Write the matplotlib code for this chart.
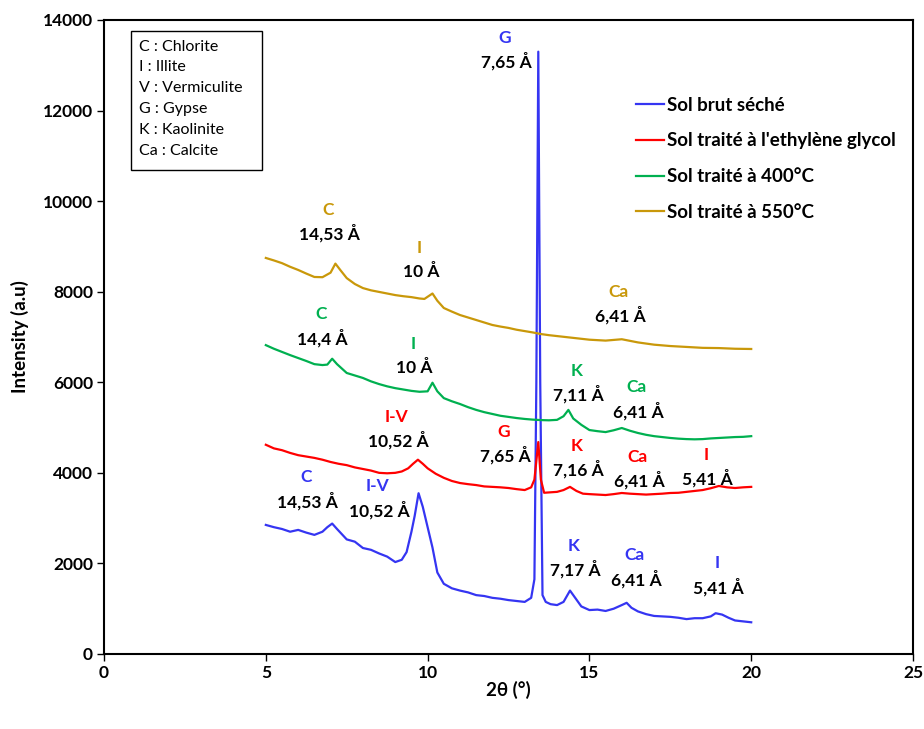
import matplotlib
matplotlib.use("Agg")
import matplotlib.pyplot as plt
from matplotlib.patches import Rectangle

plt.rcParams['font.family'] = ['Lato', 'DejaVu Sans']

# Sol brut séché
x_brut = [5.0, 5.25, 5.5, 5.75, 6.0, 6.25, 6.5, 6.75, 6.9, 7.05, 7.2, 7.5, 7.75, 8.0, 8.25, 8.5,
          8.75, 9.0, 9.2, 9.35, 9.5, 9.6, 9.72, 9.85, 10.0, 10.15, 10.3, 10.5, 10.75, 11.0, 11.25,
          11.5, 11.75, 12.0, 12.25, 12.5, 12.75, 13.0, 13.2, 13.3, 13.36, 13.42, 13.48, 13.55,
          13.65, 13.8, 14.0, 14.2, 14.4, 14.55, 14.75, 15.0, 15.25, 15.5, 15.75, 16.0, 16.15,
          16.3, 16.5, 16.75, 17.0, 17.25, 17.5, 17.75, 18.0, 18.25, 18.5, 18.75, 18.9, 19.1,
          19.3, 19.5, 19.75, 20.0]
y_brut = [2850, 2800, 2760, 2700, 2740, 2680, 2630, 2700, 2800, 2880, 2760, 2530, 2480, 2340, 2300,
          2220, 2150, 2030, 2080, 2250, 2700, 3050, 3550, 3250, 2800, 2350, 1800, 1550, 1450, 1400,
          1360, 1300, 1280, 1240, 1220, 1190, 1170, 1150, 1240, 1650, 6000, 13300, 6000, 1300,
          1150, 1100, 1080, 1150, 1400, 1250, 1050, 970, 980, 950, 1000, 1080, 1130, 1020, 940,
          880, 840, 830, 820, 800, 770, 790, 790, 830, 900, 870, 800, 740, 720, 700]

# Sol traité à l'ethylène glycol
x_eg = [5.0, 5.25, 5.5, 5.75, 6.0, 6.25, 6.5, 6.75, 7.0, 7.25, 7.5, 7.75, 8.0, 8.25, 8.5, 8.75,
        9.0, 9.2, 9.4, 9.55, 9.7, 9.85, 10.0, 10.25, 10.5, 10.75, 11.0, 11.25, 11.5, 11.75, 12.0,
        12.25, 12.5, 12.75, 13.0, 13.2, 13.3, 13.42, 13.5, 13.6, 13.8, 14.0, 14.2, 14.4, 14.6,
        14.8, 15.0, 15.25, 15.5, 15.75, 16.0, 16.25, 16.5, 16.75, 17.0, 17.25, 17.5, 17.75, 18.0,
        18.25, 18.5, 18.75, 19.0, 19.25, 19.5, 19.75, 20.0]
y_eg = [4620, 4540, 4500, 4440, 4390, 4360, 4330, 4290, 4240, 4200, 4170, 4120, 4085, 4050, 4000,
        3990, 4000, 4030, 4100, 4200, 4290, 4200, 4100, 3980, 3890, 3820, 3775, 3750, 3730, 3700,
        3690, 3680, 3665, 3640, 3620, 3680, 3850, 4680, 3850, 3560, 3570, 3580, 3620, 3690, 3600,
        3540, 3530, 3520, 3510, 3530, 3555, 3540, 3530, 3520, 3530, 3540, 3555, 3560, 3580, 3600,
        3620, 3660, 3710, 3680, 3665, 3680, 3690]

# Sol traité à 400°C
x_400 = [5.0, 5.25, 5.5, 5.75, 6.0, 6.25, 6.5, 6.75, 6.9, 7.05, 7.2, 7.5, 7.75, 8.0, 8.25, 8.5,
         8.75, 9.0, 9.25, 9.5, 9.75, 10.0, 10.15, 10.3, 10.5, 10.75, 11.0, 11.25, 11.5, 11.75,
         12.0, 12.25, 12.5, 12.75, 13.0, 13.25, 13.5, 13.75, 14.0, 14.2, 14.35, 14.5, 14.75, 15.0,
         15.25, 15.5, 15.75, 16.0, 16.25, 16.5, 16.75, 17.0, 17.25, 17.5, 17.75, 18.0, 18.25,
         18.5, 18.75, 19.0, 19.25, 19.5, 19.75, 20.0]
y_400 = [6820, 6740, 6670, 6600, 6535, 6470, 6400, 6380, 6390, 6520, 6400, 6205, 6150, 6095, 6020,
         5960, 5910, 5870, 5840, 5810, 5790, 5800, 5990, 5800, 5650, 5580, 5520, 5450, 5390, 5340,
         5300, 5260, 5235, 5210, 5190, 5175, 5165, 5160, 5170, 5250, 5390, 5200, 5060, 4945, 4920,
         4900, 4940, 4990, 4930, 4880, 4840, 4810, 4790, 4770, 4755, 4745, 4740, 4745, 4760, 4770,
         4780, 4790, 4795, 4810]

# Sol traité à 550°C
x_550 = [5.0, 5.25, 5.5, 5.75, 6.0, 6.25, 6.5, 6.75, 7.0, 7.15, 7.3, 7.5, 7.75, 8.0, 8.25, 8.5,
         8.75, 9.0, 9.25, 9.5, 9.75, 9.9, 10.15, 10.3, 10.5, 10.75, 11.0, 11.25, 11.5, 11.75, 12.0,
         12.25, 12.5, 12.75, 13.0, 13.25, 13.5, 13.75, 14.0, 14.5, 15.0, 15.5, 16.0, 16.5, 17.0,
         17.5, 18.0, 18.5, 19.0, 19.5, 20.0]
y_550 = [8745, 8690, 8630, 8550, 8480, 8400, 8325, 8320, 8420, 8620, 8480, 8300, 8170, 8080, 8030,
         7995, 7960, 7925, 7900, 7880, 7850, 7840, 7960, 7800, 7640, 7560, 7485, 7430, 7375, 7320,
         7265, 7230, 7200, 7160, 7130, 7100, 7065, 7040, 7020, 6980, 6940, 6920, 6950, 6880, 6830,
         6800, 6780, 6760, 6755, 6740, 6735]

labels = ["Sol brut séché", "Sol traité à l'ethylène glycol",
          "Sol traité à 400°C", "Sol traité à 550°C"]
colors = ["#3535f2", "#ff0000", "#00b050", "#c9980a"]

# peak annotations: (mineral, d-spacing, x, y of mineral letter, series index)
peaks = [
    ("C", "14,53 Å", 6.93, 9800, 3), ("I", "10 Å", 9.75, 8960, 3), ("Ca", "6,41 Å", 15.9, 7990, 3),
    ("C", "14,4 Å", 6.71, 7500, 2), ("I", "10 Å", 9.55, 6840, 2), ("K", "7,11 Å", 14.6, 6250, 2),
    ("Ca", "6,41 Å", 16.45, 5890, 2),
    ("I-V", "10,52 Å", 9.05, 5230, 1), ("G", "7,65 Å", 12.35, 4900, 1), ("K", "7,16 Å", 14.6, 4590, 1),
    ("Ca", "6,41 Å", 16.5, 4350, 1), ("I", "5,41 Å", 18.6, 4390, 1),
    ("C", "14,53 Å", 6.25, 3900, 0), ("I-V", "10,52 Å", 8.45, 3700, 0), ("G", "7,65 Å", 12.38, 13600, 0),
    ("K", "7,17 Å", 14.5, 2380, 0), ("Ca", "6,41 Å", 16.4, 2180, 0), ("I", "5,41 Å", 18.95, 2000, 0),
]
minerals = ["C : Chlorite", "I : Illite", "V : Vermiculite", "G : Gypse",
            "K : Kaolinite", "Ca : Calcite"]

fig = plt.figure(figsize=(9.24, 7.29), dpi=100)
ax = fig.add_axes([0.1126, 0.1029, 0.8755, 0.8697])

xs = [x_brut, x_eg, x_400, x_550]
ys = [y_brut, y_eg, y_400, y_550]
for xv, yv, c, lab in zip(xs, ys, colors, labels):
    ax.plot(xv, yv, color=c, lw=1.6, label=lab)

for mineral, d, x, y, i in peaks:
    ax.text(x, y, mineral, color=colors[i], fontsize=12.5, fontweight='bold', ha='center', va='center')
    ax.text(x + 0.05, y - 520, d, color='black', fontsize=12.5, fontweight='bold', ha='center', va='center')

ax.set_xlim(0, 25)
ax.set_ylim(0, 14000)
ax.set_xticks([0, 5, 10, 15, 20, 25])
ax.set_yticks(range(0, 14001, 2000))
ax.tick_params(direction='out', length=5, width=1, labelsize=12.5, pad=3)
for t in ax.get_xticklabels() + ax.get_yticklabels():
    t.set_fontweight('bold')
for s in ax.spines.values():
    s.set_linewidth(1.5)

ax.set_xlabel("2θ (°)", fontsize=13.5, fontweight='bold', labelpad=0)
ax.set_ylabel("Intensity (a.u)", fontsize=13.5, fontweight='bold', labelpad=10)

# mineral key box
ax.add_patch(Rectangle((0.0334, 0.763), 0.162, 0.219, transform=ax.transAxes,
                       fill=False, edgecolor='black', lw=1))
for k, m in enumerate(minerals):
    ax.text(0.043, 0.958 - k * 0.0328, m, transform=ax.transAxes, fontsize=11.5, va='center')

leg = ax.legend(loc='upper left', bbox_to_anchor=(0.658, 0.879), frameon=False,
                prop={'weight': 'bold', 'size': 13.5}, handlelength=1.5,
                handletextpad=0.15, labelspacing=1.0, borderpad=0, borderaxespad=0)

fig.savefig("out.png", dpi=100)
